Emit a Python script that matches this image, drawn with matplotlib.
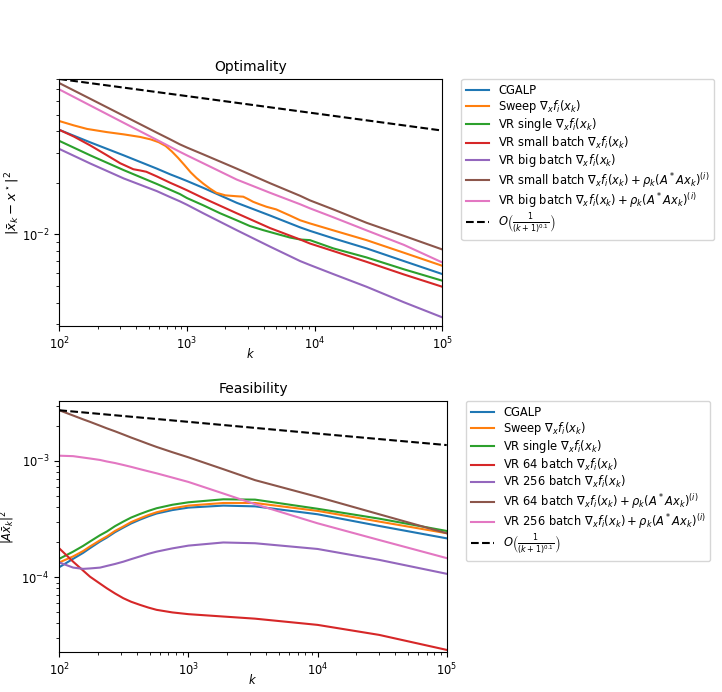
import matplotlib
matplotlib.use("Agg")
import matplotlib.pyplot as plt

plt.rcParams['font.size'] = 8.3
plt.rcParams['font.family'] = ['DejaVu Sans']

# ---------------- Optimality (top) ----------------
k_opt = [100, 175, 320, 580, 740, 880, 1000, 1340, 2450, 4470, 7700, 9190, 14000, 25500, 50000, 100000]
opt_cgalp = [0.0407, 0.0344, 0.0289, 0.0242, 0.0224, 0.0213, 0.0205, 0.0187, 0.0153, 0.0129, 0.0110, 0.0105, 0.0095, 0.0083, 0.0070, 0.00588]
opt_vr_big = [0.0315, 0.0259, 0.0212, 0.0179, 0.0165, 0.0156, 0.0149, 0.0133, 0.0106, 0.0085, 0.0070, 0.00664, 0.00588, 0.00496, 0.00403, 0.00329]
opt_vr_small_rho = [0.0762, 0.0617, 0.0491, 0.0392, 0.0358, 0.0335, 0.0321, 0.0293, 0.0242, 0.0199, 0.0168, 0.0158, 0.0140, 0.0117, 0.00982, 0.00818]
opt_vr_big_rho = [0.0700, 0.0564, 0.0447, 0.0356, 0.0324, 0.0303, 0.0289, 0.0260, 0.0209, 0.0175, 0.0150, 0.0142, 0.0126, 0.01057, 0.0087, 0.00687]

k_single = [100, 175, 320, 580, 740, 880, 1000, 1340, 1815, 2450, 3110, 3960, 5000, 6410, 7700, 9190, 14000, 25500, 50000, 100000]
opt_vr_single = [0.0351, 0.0289, 0.0237, 0.0197, 0.0182, 0.0172, 0.0163, 0.0148, 0.0133, 0.0121, 0.0112, 0.0106, 0.0101, 0.0096, 0.00935, 0.00927, 0.0083, 0.00735, 0.00627, 0.00538]

k_sweep = [100, 130, 165, 235, 320, 430, 520, 600, 680, 760, 850, 950, 1070, 1190, 1340, 1515, 1700, 2000, 2450, 2760, 3000, 3300, 3700, 4200, 5000, 6400, 7700, 9190, 14000, 25500, 50000, 100000]
opt_sweep = [0.0458, 0.0432, 0.0412, 0.0395, 0.0383, 0.0370, 0.0358, 0.0345, 0.0328, 0.0305, 0.0280, 0.0255, 0.0230, 0.0213, 0.0198, 0.0185, 0.0175, 0.0169, 0.0167, 0.0166, 0.0161, 0.0155, 0.0150, 0.0145, 0.0140, 0.0129, 0.0121, 0.0116, 0.01057, 0.00927, 0.00783, 0.00657]

k_small = [100, 130, 175, 235, 300, 380, 430, 480, 580, 740, 880, 1000, 1340, 2450, 4470, 7700, 9190, 14000, 25500, 50000, 100000]
opt_vr_small = [0.0407, 0.0372, 0.0330, 0.0290, 0.0260, 0.0240, 0.0236, 0.0232, 0.0218, 0.0200, 0.0189, 0.0181, 0.0163, 0.0133, 0.0109, 0.00935, 0.00886, 0.00801, 0.00693, 0.00585, 0.00496]

k_ref = [100, 1000, 10000, 100000]
opt_ref = [0.0805, 0.0640, 0.0508, 0.0403]

# ---------------- Feasibility (bottom) ----------------
k_feas = [100, 128, 153, 173, 207, 233, 270, 313, 360, 422, 490, 567, 750, 1000, 1862, 3280, 10000, 30000, 100000]
feas_cgalp = [1.22e-4, 1.44e-4, 1.62e-4, 1.78e-4, 2.03e-4, 2.19e-4, 2.44e-4, 2.67e-4, 2.90e-4, 3.13e-4, 3.34e-4, 3.53e-4, 3.78e-4, 3.97e-4, 4.13e-4, 4.07e-4, 3.48e-4, 2.76e-4, 2.16e-4]
feas_sweep = [1.34e-4, 1.51e-4, 1.68e-4, 1.84e-4, 2.08e-4, 2.24e-4, 2.50e-4, 2.73e-4, 2.98e-4, 3.21e-4, 3.43e-4, 3.62e-4, 3.91e-4, 4.13e-4, 4.35e-4, 4.35e-4, 3.72e-4, 3.01e-4, 2.39e-4]
feas_vr_single = [1.44e-4, 1.66e-4, 1.86e-4, 2.03e-4, 2.30e-4, 2.47e-4, 2.75e-4, 3.01e-4, 3.26e-4, 3.50e-4, 3.72e-4, 3.92e-4, 4.20e-4, 4.41e-4, 4.68e-4, 4.65e-4, 3.88e-4, 3.19e-4, 2.50e-4]
feas_vr_64 = [1.77e-4, 1.36e-4, 1.14e-4, 1.01e-4, 8.8e-5, 8.04e-5, 7.25e-5, 6.6e-5, 6.15e-5, 5.78e-5, 5.48e-5, 5.24e-5, 4.98e-5, 4.81e-5, 4.59e-5, 4.40e-5, 3.89e-5, 3.19e-5, 2.37e-5]
feas_vr_256 = [1.34e-4, 1.21e-4, 1.18e-4, 1.19e-4, 1.21e-4, 1.25e-4, 1.30e-4, 1.36e-4, 1.43e-4, 1.51e-4, 1.59e-4, 1.66e-4, 1.77e-4, 1.87e-4, 1.99e-4, 1.96e-4, 1.75e-4, 1.41e-4, 1.07e-4]
feas_vr_64_rho = [2.73e-3, 2.46e-3, 2.28e-3, 2.17e-3, 2.01e-3, 1.91e-3, 1.80e-3, 1.69e-3, 1.59e-3, 1.49e-3, 1.40e-3, 1.32e-3, 1.19e-3, 1.075e-3, 8.5e-4, 6.84e-4, 4.91e-4, 3.48e-4, 2.39e-4]
feas_vr_256_rho = [1.11e-3, 1.10e-3, 1.07e-3, 1.05e-3, 1.02e-3, 9.9e-4, 9.6e-4, 9.24e-4, 8.9e-4, 8.5e-4, 8.15e-4, 7.83e-4, 7.2e-4, 6.6e-4, 5.25e-4, 4.25e-4, 2.91e-4, 2.09e-4, 1.46e-4]
feas_ref = [2.73e-3, 2.17e-3, 1.72e-3, 1.37e-3]

labels_opt = [
    'CGALP',
    r'Sweep $\nabla_x f_i(x_k)$',
    r'VR single $\nabla_x f_i(x_k)$',
    r'VR small batch $\nabla_x f_i(x_k)$',
    r'VR big batch $\nabla_x f_i(x_k)$',
    r'VR small batch $\nabla_x f_i(x_k) + \rho_k(A^*Ax_k)^{(i)}$',
    r'VR big batch $\nabla_x f_i(x_k) + \rho_k(A^*Ax_k)^{(i)}$',
    r'$O\left(\frac{1}{(k+1)^{0.1}}\right)$',
]
labels_feas = [
    'CGALP',
    r'Sweep $\nabla_x f_i(x_k)$',
    r'VR single $\nabla_x f_i(x_k)$',
    r'VR 64 batch $\nabla_x f_i(x_k)$',
    r'VR 256 batch $\nabla_x f_i(x_k)$',
    r'VR 64 batch $\nabla_x f_i(x_k) + \rho_k(A^*Ax_k)^{(i)}$',
    r'VR 256 batch $\nabla_x f_i(x_k) + \rho_k(A^*Ax_k)^{(i)}$',
    r'$O\left(\frac{1}{(k+1)^{0.1}}\right)$',
]

colors = ['tab:blue', 'tab:orange', 'tab:green', 'tab:red', 'tab:purple', 'tab:brown', 'tab:pink']

W, H = 722, 692
fig = plt.figure(figsize=(W / 100, H / 100), dpi=100)

def rect(l, t, r, b):
    return [l / W, 1 - b / H, (r - l) / W, (b - t) / H]

ax1 = fig.add_axes(rect(59.3, 79, 442.3, 326))
series_opt = [(k_opt, opt_cgalp), (k_sweep, opt_sweep), (k_single, opt_vr_single),
              (k_small, opt_vr_small), (k_opt, opt_vr_big), (k_opt, opt_vr_small_rho),
              (k_opt, opt_vr_big_rho)]
for (kk, vv), c, lab in zip(series_opt, colors, labels_opt):
    ax1.plot(kk, vv, color=c, lw=1.5, label=lab)
ax1.plot(k_ref, opt_ref, 'k--', lw=1.5, label=labels_opt[-1])
ax1.set_xscale('log')
ax1.set_yscale('log')
ax1.set_xlim(100, 1e5)
ax1.set_ylim(2.93e-3, 0.0805)
ax1.set_title('Optimality')
ax1.set_xlabel(r'$k$')
ax1.xaxis.set_label_coords(0.5, -0.085)
ax1.set_ylabel(r'$|\bar{x}_k - x^\star|^2$', fontsize=9.5)
ax1.yaxis.set_label_coords(-0.097, 0.5)
ax1.legend(loc='upper left', bbox_to_anchor=(1.05, 1), borderaxespad=0, labelspacing=0.12)

ax2 = fig.add_axes(rect(59.3, 401, 446.7, 652.3))
series_feas = [feas_cgalp, feas_sweep, feas_vr_single, feas_vr_64, feas_vr_256,
               feas_vr_64_rho, feas_vr_256_rho]
for vv, c, lab in zip(series_feas, colors, labels_feas):
    ax2.plot(k_feas, vv, color=c, lw=1.5, label=lab)
ax2.plot(k_ref, feas_ref, 'k--', lw=1.5, label=labels_feas[-1])
ax2.set_xscale('log')
ax2.set_yscale('log')
ax2.set_xlim(100, 1e5)
ax2.set_ylim(2.26e-5, 3.28e-3)
ax2.set_title('Feasibility')
ax2.set_xlabel(r'$k$')
ax2.xaxis.set_label_coords(0.5, -0.083)
ax2.set_ylabel(r'$|A\bar{x}_k|^2$')
ax2.yaxis.set_label_coords(-0.108, 0.5)
ax2.legend(loc='upper left', bbox_to_anchor=(1.05, 1), borderaxespad=0, labelspacing=0.12)

fig.savefig('out.png', dpi=100)
